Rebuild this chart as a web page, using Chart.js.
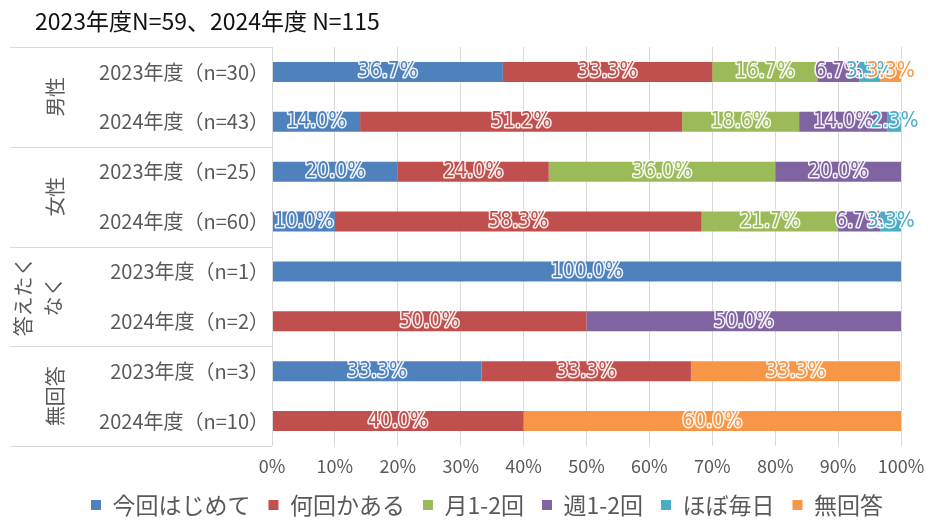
<!DOCTYPE html>
<html>
<head>
<meta charset="utf-8">
<script src="https://cdn.jsdelivr.net/npm/chart.js@4.4.1/dist/chart.umd.min.js"></script>
<style>
    html, body { margin: 0; padding: 0; background: #fff; }
    #wrap { width: 930px; height: 520px; }
</style>
</head>
<body>
<div id="wrap"><canvas id="myChart" width="930" height="520"></canvas></div>
<script>
// data
const titleText = '2023年度N=59、2024年度 N=115';
const categories = ['2023年度（n=30）', '2024年度（n=43）', '2023年度（n=25）', '2024年度（n=60）',
    '2023年度（n=1）', '2024年度（n=2）', '2023年度（n=3）', '2024年度（n=10）'];
const groupLines = [['男性'], ['女性'], ['答えたく', 'なく'], ['無回答']];
const groupRows = [[0, 1], [2, 3], [4, 5], [6, 7]];
const seriesNames = ['今回はじめて', '何回かある', '月1-2回', '週1-2回', 'ほぼ毎日', '無回答'];
const firstTime = [36.7, 14.0, 20.0, 10.0, 100.0, 0, 33.3, 0];
const severalTimes = [33.3, 51.2, 24.0, 58.3, 0, 50.0, 33.3, 40.0];
const monthly = [16.7, 18.6, 36.0, 21.7, 0, 0, 0, 0];
const weekly = [6.7, 14.0, 20.0, 6.7, 0, 50.0, 0, 0];
const daily = [3.3, 2.3, 0, 3.3, 0, 0, 0, 0];
const noAnswer = [3.3, 0, 0, 0, 0, 0, 33.3, 60.0];
const xTicks = [0, 10, 20, 30, 40, 50, 60, 70, 80, 90, 100];

const colors = ['#4F81BD', '#C0504D', '#9BBB59', '#8064A2', '#4BACC6', '#F79646'];
const seriesValues = [firstTime, severalTimes, monthly, weekly, daily, noAnswer];
const JP = "'Noto Sans CJK JP', 'Noto Sans', sans-serif";
const GRID = '#d9d9d9';
const TEXT = '#595959';

var datasets = seriesNames.map(function(name, i) {
    return {
        label: name,
        data: seriesValues[i],
        backgroundColor: colors[i],
        borderColor: colors[i],
        borderWidth: 0,
        barPercentage: 0.4,
        categoryPercentage: 1.0
    };
});

// value labels with a white halo, in the series colour
var barLabels = {
    id: 'barLabels',
    beforeDraw: function(chart) {
        // let the x tick labels run past the shortened axis box
        chart.scales.x.bottom = chart.height;
    },
    afterDatasetsDraw: function(chart) {
        var ctx = chart.ctx;
        ctx.save();
        ctx.font = "21px 'Liberation Sans Narrow', 'DejaVu Sans Condensed', 'Liberation Sans', sans-serif";
        ctx.textAlign = 'center';
        ctx.textBaseline = 'middle';
        ctx.lineJoin = 'round';
        chart.data.datasets.forEach(function(ds, di) {
            var meta = chart.getDatasetMeta(di);
            meta.data.forEach(function(bar, i) {
                var v = ds.data[i];
                if (!v) return;
                var txt = v.toFixed(1) + '%';
                var cx = (bar.x + bar.base) / 2;
                ctx.lineWidth = 3;
                ctx.strokeStyle = 'rgba(255,255,255,0.9)';
                ctx.strokeText(txt, cx, bar.y);
                ctx.fillStyle = ds.borderColor;
                ctx.fillText(txt, cx, bar.y);
            });
        });
        ctx.restore();
    }
};

// title, left table lines and rotated group names
var frame = {
    id: 'frame',
    afterDraw: function(chart) {
        var ctx = chart.ctx;
        var y = chart.scales.y;
        var area = chart.chartArea;
        ctx.save();
        ctx.fillStyle = '#111';
        ctx.font = '23px ' + JP;
        ctx.textAlign = 'left';
        ctx.textBaseline = 'middle';
        ctx.fillText(titleText, 35, 21);

        ctx.strokeStyle = GRID;
        ctx.lineWidth = 1;
        ctx.beginPath();
        var edges = [-0.5, 1.5, 3.5, 5.5, 7.5];
        edges.forEach(function(e) {
            var py = Math.round(y.getPixelForValue(e)) + 0.5;
            ctx.moveTo(10, py);
            ctx.lineTo(area.left, py);
        });
        ctx.moveTo(area.left + 0.5, area.top);
        ctx.lineTo(area.left + 0.5, area.bottom);
        ctx.stroke();

        ctx.fillStyle = TEXT;
        ctx.font = '20px ' + JP;
        ctx.textAlign = 'center';
        groupLines.forEach(function(lines, g) {
            var rows = groupRows[g];
            var cy = (y.getPixelForValue(rows[0]) + y.getPixelForValue(rows[1])) / 2;
            var xs = lines.length === 1 ? [55] : [23, 53];
            lines.forEach(function(t, k) {
                ctx.save();
                ctx.translate(xs[k], cy);
                ctx.rotate(-Math.PI / 2);
                ctx.fillText(t, 0, 0);
                ctx.restore();
            });
        });
        ctx.restore();
    }
};

const config = {
    type: 'bar',
    data: {
        labels: categories,
        datasets: datasets
    },
    options: {
        indexAxis: 'y',
        responsive: false,
        animation: false,
        layout: {
            padding: { left: 0, right: 29, top: 47, bottom: -6.5 }
        },
        plugins: {
            legend: {
                position: 'bottom',
                align: 'end',
                labels: {
                    boxWidth: 10,
                    boxHeight: 10,
                    padding: 18,
                    color: TEXT,
                    font: { family: JP, size: 23 }
                }
            },
            tooltip: { enabled: false }
        },
        scales: {
            x: {
                stacked: true,
                min: 0,
                max: 100,
                afterBuildTicks: function(scale) {
                    scale.ticks = xTicks.map(function(v) { return { value: v }; });
                },
                afterFit: function(scale) {
                    scale.height = 29.5;
                    scale.paddingLeft = 0;
                    scale.paddingRight = 0;
                },
                grid: { color: GRID, drawTicks: false },
                border: { display: false },
                ticks: {
                    padding: 9,
                    color: TEXT,
                    font: { family: JP, size: 18 },
                    callback: function(v) { return v + '%'; }
                }
            },
            y: {
                stacked: true,
                afterFit: function(scale) {
                    scale.width = 272;
                },
                grid: { display: false },
                border: { display: false },
                ticks: {
                    padding: -5,
                    color: TEXT,
                    font: { family: JP, size: 20 }
                }
            }
        }
    },
    plugins: [barLabels, frame]
};

var myChart = new Chart(document.getElementById('myChart'), config);
</script>
</body>
</html>
